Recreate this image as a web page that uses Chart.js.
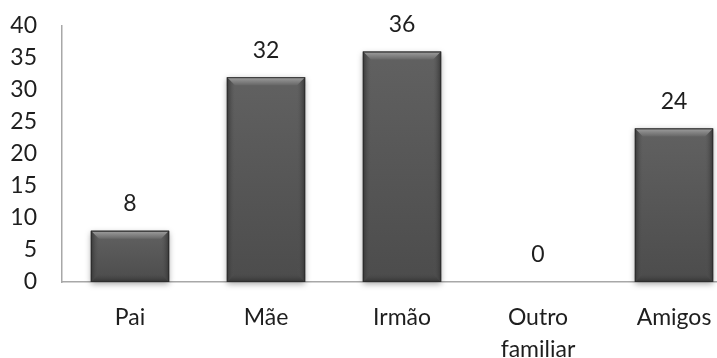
<!DOCTYPE html>
<html>
<head>
<meta charset="utf-8">
<script src="https://cdn.jsdelivr.net/npm/chart.js@4.4.1/dist/chart.umd.min.js"></script>
<style>
  html, body { margin: 0; padding: 0; background: #fff; overflow: hidden; }
  #wrap { width: 742px; height: 358px; }
</style>
</head>
<body>
<div id="wrap"><canvas id="grafico" width="742" height="358"></canvas></div>
<script>
const categorias = ['Pai', 'Mãe', 'Irmão', ['Outro', 'familiar'], 'Amigos'];
const valores = [8, 32, 36, 0, 24];
const eixoY = { min: 0, max: 40, passo: 5 };

const fonte = { family: 'Lato, "Open Sans", sans-serif', size: 23 };
const corTexto = '#1e1e1e';

// relevo das barras (bordas escuras, chanfro claro em cima) e sombra
const relevo = {
  id: 'relevo',
  beforeDatasetsDraw(chart) {
    const ctx = chart.ctx;
    ctx.save();
    chart.getDatasetMeta(0).data.forEach(bar => {
      const w = bar.width, x0 = bar.x - w / 2, h = bar.base - bar.y;
      if (h <= 0) return;
      ctx.save();
      ctx.shadowColor = 'rgba(0,0,0,0.35)';
      ctx.shadowBlur = 6;
      ctx.shadowOffsetY = 2;
      ctx.fillStyle = '#4a4a4a';
      ctx.fillRect(x0, bar.y, w, h);
      ctx.restore();
    });
    ctx.restore();
  },
  afterDatasetsDraw(chart) {
    const ctx = chart.ctx;
    ctx.save();
    chart.getDatasetMeta(0).data.forEach(bar => {
      const w = bar.width, x0 = bar.x - w / 2, x1 = bar.x + w / 2;
      const y0 = bar.y, y1 = bar.base, h = y1 - y0;
      if (h <= 0) return;
      const b = Math.min(8, h / 3);

      // corpo com leve degradê vertical
      let g = ctx.createLinearGradient(0, y0, 0, y1);
      g.addColorStop(0, '#616161');
      g.addColorStop(1, '#4c4c4c');
      ctx.fillStyle = g;
      ctx.fillRect(x0, y0, w, h);

      // chanfro superior
      g = ctx.createLinearGradient(0, y0, 0, y0 + b);
      g.addColorStop(0, '#a0a0a0');
      g.addColorStop(0.35, '#8c8c8c');
      g.addColorStop(1, '#676767');
      ctx.fillStyle = g;
      ctx.beginPath();
      ctx.moveTo(x0, y0); ctx.lineTo(x1, y0);
      ctx.lineTo(x1 - b, y0 + b); ctx.lineTo(x0 + b, y0 + b);
      ctx.closePath(); ctx.fill();

      // laterais
      g = ctx.createLinearGradient(x0, 0, x0 + b, 0);
      g.addColorStop(0, '#363636');
      g.addColorStop(1, 'rgba(85,85,85,0)');
      ctx.fillStyle = g;
      ctx.beginPath();
      ctx.moveTo(x0, y0); ctx.lineTo(x0 + b, y0 + b);
      ctx.lineTo(x0 + b, y1 - b); ctx.lineTo(x0, y1);
      ctx.closePath(); ctx.fill();

      g = ctx.createLinearGradient(x1, 0, x1 - b, 0);
      g.addColorStop(0, '#363636');
      g.addColorStop(1, 'rgba(85,85,85,0)');
      ctx.fillStyle = g;
      ctx.beginPath();
      ctx.moveTo(x1, y0); ctx.lineTo(x1 - b, y0 + b);
      ctx.lineTo(x1 - b, y1 - b); ctx.lineTo(x1, y1);
      ctx.closePath(); ctx.fill();

      // base
      g = ctx.createLinearGradient(0, y1, 0, y1 - b);
      g.addColorStop(0, '#333');
      g.addColorStop(1, 'rgba(70,70,70,0)');
      ctx.fillStyle = g;
      ctx.beginPath();
      ctx.moveTo(x0, y1); ctx.lineTo(x1, y1);
      ctx.lineTo(x1 - b, y1 - b); ctx.lineTo(x0 + b, y1 - b);
      ctx.closePath(); ctx.fill();

      ctx.strokeStyle = '#2e2e2e';
      ctx.lineWidth = 1;
      ctx.strokeRect(x0 + 0.5, y0 + 0.5, w - 1, h - 1);
    });

    // rótulos de valor
    ctx.fillStyle = corTexto;
    ctx.font = fonte.size + 'px ' + fonte.family;
    ctx.textAlign = 'center';
    ctx.textBaseline = 'middle';
    chart.getDatasetMeta(0).data.forEach((bar, i) => {
      ctx.fillText(String(valores[i]), bar.x, bar.y - 27);
    });
    ctx.restore();
  }
};

new Chart(document.getElementById('grafico'), {
  type: 'bar',
  data: {
    labels: categorias,
    datasets: [{
      data: valores,
      backgroundColor: '#595959',
      borderWidth: 0,
      barPercentage: 0.575,
      categoryPercentage: 1
    }]
  },
  options: {
    responsive: false,
    animation: false,
    layout: { padding: { top: 26, left: 0, right: 0, bottom: 0 } },
    plugins: { legend: { display: false }, tooltip: { enabled: false } },
    scales: {
      x: {
        grid: { display: false, drawTicks: false },
        border: { display: true, color: '#a8a8a8', width: 1.5 },
        ticks: { color: corTexto, font: { ...fonte, lineHeight: 1.4 }, padding: 19, maxRotation: 0, autoSkip: false },
        afterFit(s) { s.height = 76; s.paddingLeft = 0; s.paddingRight = 0; }
      },
      y: {
        min: eixoY.min,
        max: eixoY.max,
        grid: { display: false, drawTicks: false },
        border: { display: true, color: '#a8a8a8', width: 1.5 },
        ticks: { stepSize: eixoY.passo, color: corTexto, font: fonte, padding: 25, autoSkip: false },
        afterFit(s) { s.width = 62; s.paddingTop = 0; s.paddingBottom = 0; }
      }
    }
  },
  plugins: [relevo]
});
</script>
</body>
</html>
